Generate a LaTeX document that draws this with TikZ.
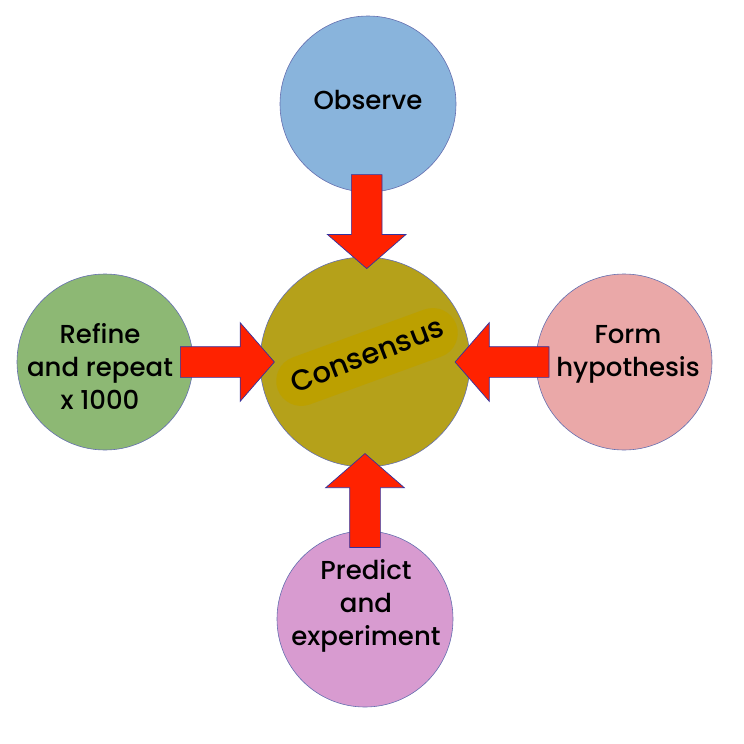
\documentclass[tikz,border=0pt]{standalone}
\usepackage{fontspec}
\setmainfont{Poppins Medium}
\usetikzlibrary{shapes.arrows,calc}

\definecolor{obsblue}{RGB}{137,180,220}
\definecolor{consolive}{RGB}{181,161,26}
\definecolor{blobgold}{RGB}{188,160,0}
\definecolor{refgreen}{RGB}{141,184,116}
\definecolor{hyppink}{RGB}{234,168,168}
\definecolor{predlilac}{RGB}{216,155,208}
\definecolor{arrowred}{RGB}{255,34,0}
\definecolor{arrowblue}{RGB}{50,50,160}
\definecolor{rimblue}{RGB}{100,110,175}

\begin{document}
\begin{tikzpicture}[x=1pt,y=-1pt,
    stage/.style={circle, draw=rimblue, line width=0.6pt, inner sep=0pt, minimum size=176pt},
    bigarrow/.style={single arrow, fill=arrowred, draw=arrowblue, line width=0.7pt,
        inner xsep=0pt, inner ysep=15pt, text height=0pt, text depth=0pt,
        minimum height=94pt, single arrow head extend=24pt, single arrow tip angle=98},
    lbl/.style={align=center, font=\fontsize{26}{33}\selectfont}]
    \useasboundingbox (0,0) rectangle (744,744);

    % the five circles
    \node[stage, fill=obsblue] (obs) at (368,104) {};
    \node[stage, fill=consolive, minimum size=210pt] (cons) at (365,362) {};
    \node[stage, fill=refgreen] (ref) at (105,362) {};
    \node[stage, fill=hyppink] (hyp) at (624,362) {};
    \node[stage, fill=predlilac] (pred) at (365,619) {};

    % labels
    \node[lbl] (obs-t) at ([yshift=4pt]obs) {Observe};
    \node[lbl] (ref-t) at ([xshift=-5pt,yshift=-4pt]ref) {Refine\\and repeat\\x 1000};
    \node[lbl] (hyp-t) at ([xshift=4pt,yshift=8pt]hyp) {Form\\hypothesis};
    \node[lbl] (pred-t) at ([xshift=1pt,yshift=13pt]pred) {Predict\\and\\experiment};

    % highlighted consensus
    \node[fill=blobgold, rounded corners=25pt, minimum width=190pt, minimum height=50pt,
        rotate=20] (blob) at (367,357) {};
    \node[rotate=21, font=\fontsize{29}{33}\selectfont] (cons-t) at ([yshift=2pt]blob) {Consensus};

    % arrows into the centre
    \node[bigarrow, rotate=270] (a-obs) at ($(obs)!0.43!(cons)$) {};
    \node[bigarrow] (a-ref) at ($(ref)!0.445!(cons)$) {};
    \node[bigarrow, rotate=180] (a-hyp) at ($(cons)!0.555!(hyp)$) {};
    \node[bigarrow, rotate=90] (a-pred) at ($(cons)!0.565!(pred)$) {};
\end{tikzpicture}
\end{document}
